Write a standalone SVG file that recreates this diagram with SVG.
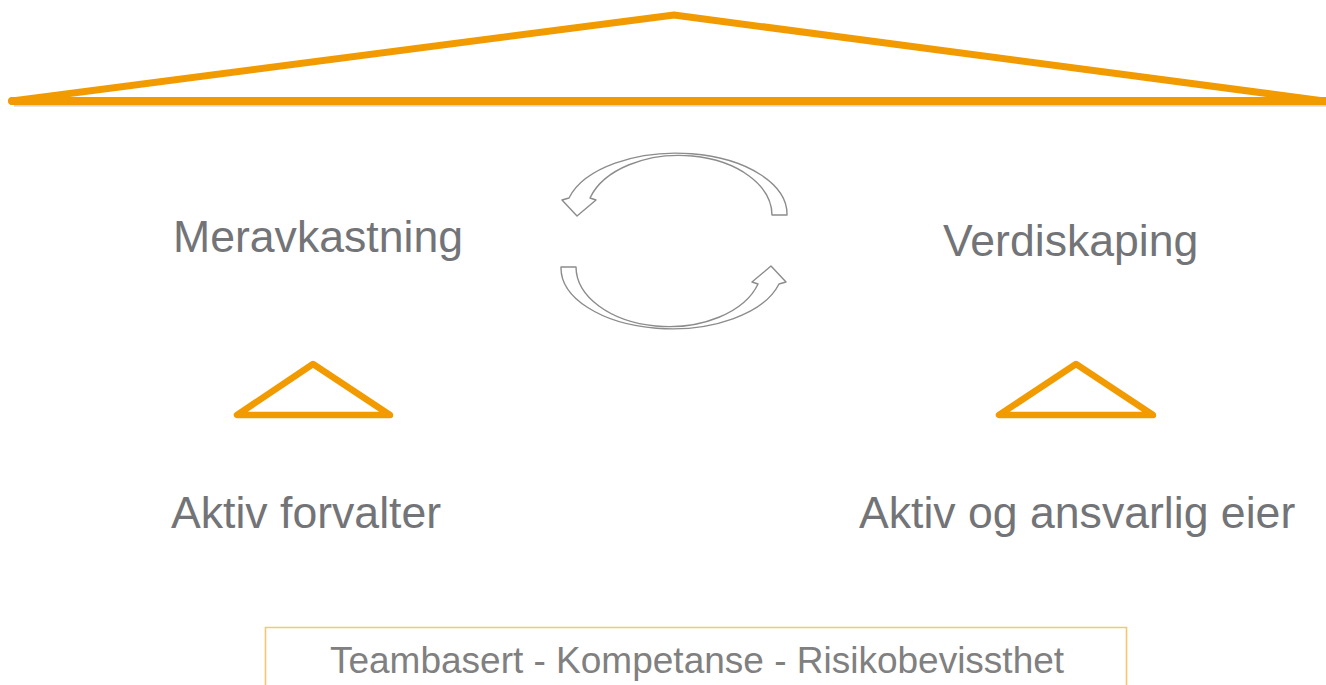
<svg xmlns="http://www.w3.org/2000/svg" width="1326" height="685" viewBox="0 0 1326 685">
  <style>
    .orange { fill: none; stroke: #F29B00; stroke-linejoin: round; stroke-linecap: round; }
    .label { font-family: "Liberation Sans", Arial, sans-serif; font-size: 44.6px; fill: #737477; }
    .base { font-family: "Liberation Sans", Arial, sans-serif; font-size: 37px; fill: #808080; text-anchor: middle; }
    .cyc { fill: #ffffff; stroke: #8c8c8c; stroke-width: 1.4; stroke-linejoin: round; }
  </style>
  <defs>
    <!-- one curved arrow of the cycle; the second is the same shape turned half a turn -->
    <path id="curved-arrow" d="M787,215 A111,61 0 0 0 569,198 L562,200 L577,216 L596,200 L590,198 A93,60 0 0 1 772,215 Z"/>
  </defs>

  <!-- roof -->
  <g id="roof">
    <line x1="14" y1="105.8" x2="1326" y2="105.8" stroke="#c9c9c9" stroke-width="1.2"/>
    <polyline class="orange" stroke-width="7" points="12,101 674,15 1324,101"/>
    <line class="orange" stroke-width="8" x1="12" y1="101" x2="1330" y2="101"/>
  </g>

  <!-- value cycle between the two sides -->
  <g id="cycle">
    <use href="#curved-arrow" class="cyc"/>
    <use href="#curved-arrow" class="cyc" transform="rotate(180 674 241)"/>
  </g>

  <g id="meravkastning">
    <text class="label" x="173" y="252">Meravkastning</text>
  </g>
  <g id="verdiskaping">
    <text class="label" x="943" y="256">Verdiskaping</text>
  </g>

  <g id="left-pillar">
    <polygon class="orange" stroke-width="6.5" points="313,364 237,415 390,415"/>
  </g>
  <g id="right-pillar">
    <polygon class="orange" stroke-width="6.5" points="1076,364 999,415 1153,415"/>
  </g>

  <g id="aktiv-forvalter">
    <text class="label" x="171" y="528">Aktiv forvalter</text>
  </g>
  <g id="aktiv-eier">
    <text class="label" x="859" y="528">Aktiv og ansvarlig eier</text>
  </g>

  <!-- foundation -->
  <g id="foundation">
    <polyline fill="none" stroke="#F9C56E" stroke-width="1.6" points="265.5,690 265.5,627.5 1126.5,627.5 1126.5,690"/>
    <text class="base" x="697" y="673">Teambasert - Kompetanse - Risikobevissthet</text>
  </g>

  <g id="connectors"/>
</svg>
